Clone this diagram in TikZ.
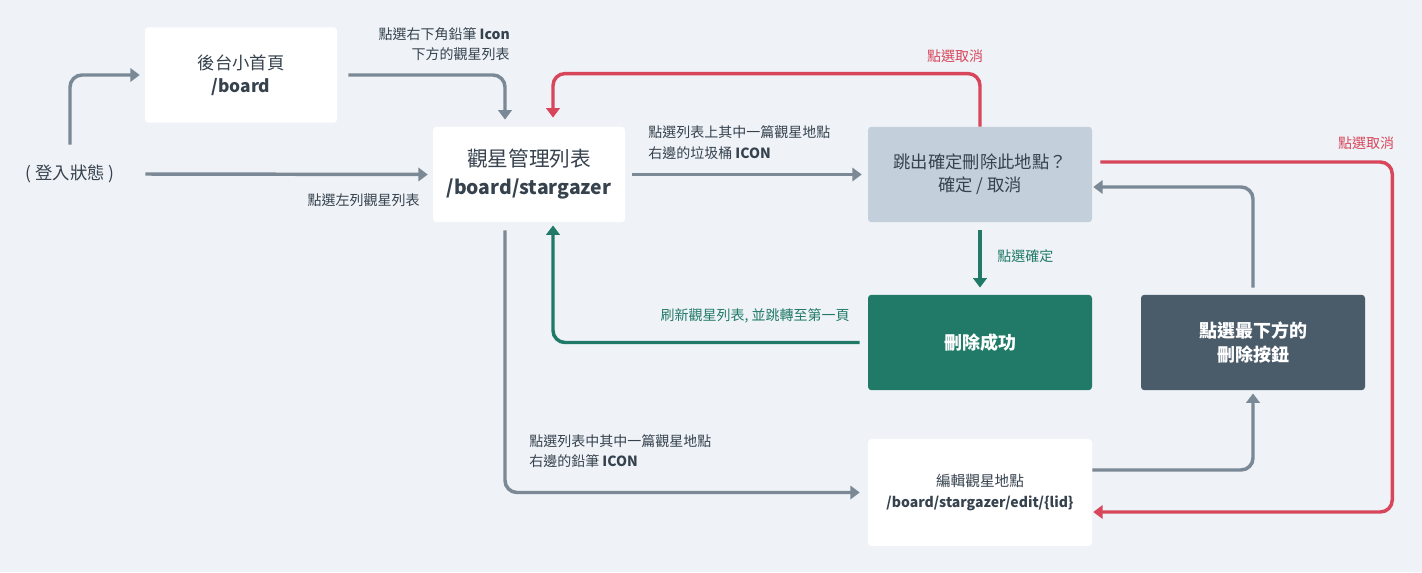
\documentclass[tikz,border=0pt]{standalone}
\usepackage{fontspec}
\setmainfont{Noto Sans CJK TC}
\usetikzlibrary{arrows.meta,calc}

\definecolor{bg}{HTML}{EFF3F7}
\definecolor{ink}{HTML}{36424E}
\definecolor{flowgray}{HTML}{7B8997}
\definecolor{cancelred}{HTML}{D7465B}
\definecolor{okgreen}{HTML}{217A68}
\definecolor{askfill}{HTML}{C3CFDA}
\definecolor{slate}{HTML}{4A5B6A}

\newcommand\fsz[2]{\fontsize{#1}{#2}\selectfont}

\begin{document}
\begin{tikzpicture}[x=0.75pt,y=-0.75pt,
  card/.style={rounded corners=2.5pt, inner sep=0pt, align=center, text=ink},
  narrowcard/.style={card, minimum width=144pt, minimum height=71.5pt},
  widecard/.style={card, minimum width=168pt, minimum height=71.5pt},
  lbl/.style={inner sep=0pt, text=ink, font=\fsz{10.5pt}{15.5pt}},
  conn/.style={line width=2.6pt, rounded corners=9pt,
               -{Triangle[length=7pt,width=10pt]}},
  grayflow/.style={conn, draw=flowgray},
  redflow/.style={conn, draw=cancelred},
  greenflow/.style={conn, draw=okgreen}]

\fill[bg] (0,0) rectangle (1422,572);
\useasboundingbox (0,0) rectangle (1422,572);

% pages and states
\node[inner sep=0pt, minimum width=112.5pt, minimum height=43.5pt, text=ink,
      font=\fsz{13pt}{15pt}] (login) at (70,174) {( 登入狀態 )};
\node[narrowcard, fill=white, font=\fsz{13pt}{17.25pt}] (home) at (241,75)
  {後台小首頁\\\textbf{/board}};
\node[narrowcard, fill=white, font=\fsz{15.5pt}{21pt}] (list) at (529,174.5)
  {觀星管理列表\\{\fsz{14.5pt}{21pt}\textbf{/board/stargazer}}};
\node[widecard, fill=askfill, font=\fsz{13pt}{17.25pt}] (ask) at (980,174.5)
  {跳出確定刪除此地點？\\確定 / 取消};
\node[widecard, fill=okgreen, text=white, font=\bfseries\fsz{13.5pt}{18pt}] (done) at (980,342.5)
  {刪除成功};
\node[widecard, fill=slate, text=white, font=\bfseries\fsz{13.5pt}{18pt}] (delbtn) at (1253,342.5)
  {點選最下方的\\刪除按鈕};
\node[card, fill=white, minimum width=168pt, minimum height=80pt, font=\fsz{11pt}{15.75pt}] (edit) at (980,492.5)
  {編輯觀星地點\\{\fsz{10.5pt}{15.75pt}\textbf{/board/stargazer/edit/\{lid\}}}};

% connectors
\draw[grayflow, shorten >=3.75pt] (login.north) |- (home.west);
\draw[grayflow, shorten <=8.25pt, shorten >=5.25pt] (home.east) -| ($(list.north)+(-24,0)$);
\draw[grayflow, shorten >=3.75pt] (login.east) -- (list.west);
\draw[grayflow, shorten <=5.25pt, shorten >=4.5pt] (list.east) -- (ask.west);
\draw[redflow, shorten >=6.75pt] (ask.north) -- ++(0,-53) -| ($(list.north)+(24,0)$);
\draw[redflow, shorten >=0.75pt] ($(ask.east)+(8,-12.5)$) -- ++(292,0) |- ($(edit.east)+(0,19.5)$);
\draw[grayflow, shorten <=5.25pt, shorten >=0.75pt] (delbtn.north) |- ($(ask.east)+(0,12.5)$);
\draw[grayflow, shorten >=2.25pt] ($(edit.east)+(0,-22.5)$) -| (delbtn.south);
\draw[greenflow, shorten <=6pt, shorten >=5.25pt] (ask.south) -- (done.north);
\draw[greenflow, shorten <=6pt, shorten >=2.25pt] (done.west) -| ($(list.south)+(24,0)$);
\draw[grayflow, shorten <=6pt, shorten >=6pt] ($(list.south)+(-24,0)$) |- (edit.west);

% connector labels
\node[lbl, anchor=east, align=right] (lhome) at (510,44)
  {點選右下角鉛筆 \textbf{Icon}\\下方的觀星列表};
\node[lbl, anchor=east] (lside) at (420,200) {點選左列觀星列表};
\node[lbl, anchor=west, align=left] (ltrash) at (648,142.5)
  {點選列表上其中一篇觀星地點\\右邊的垃圾桶 \textbf{ICON}};
\node[lbl, text=cancelred] (lcancel1) at (955,56) {點選取消};
\node[lbl, text=cancelred] (lcancel2) at (1366,143) {點選取消};
\node[lbl, text=okgreen, anchor=west] (lconfirm) at (997,256) {點選確定};
\node[lbl, text=okgreen, anchor=east] (lrefresh) at (850,316) {刷新觀星列表, 並跳轉至第一頁};
\node[lbl, anchor=west, align=left] (lpencil) at (529,451)
  {點選列表中其中一篇觀星地點\\右邊的鉛筆 \textbf{ICON}};
\end{tikzpicture}
\end{document}
